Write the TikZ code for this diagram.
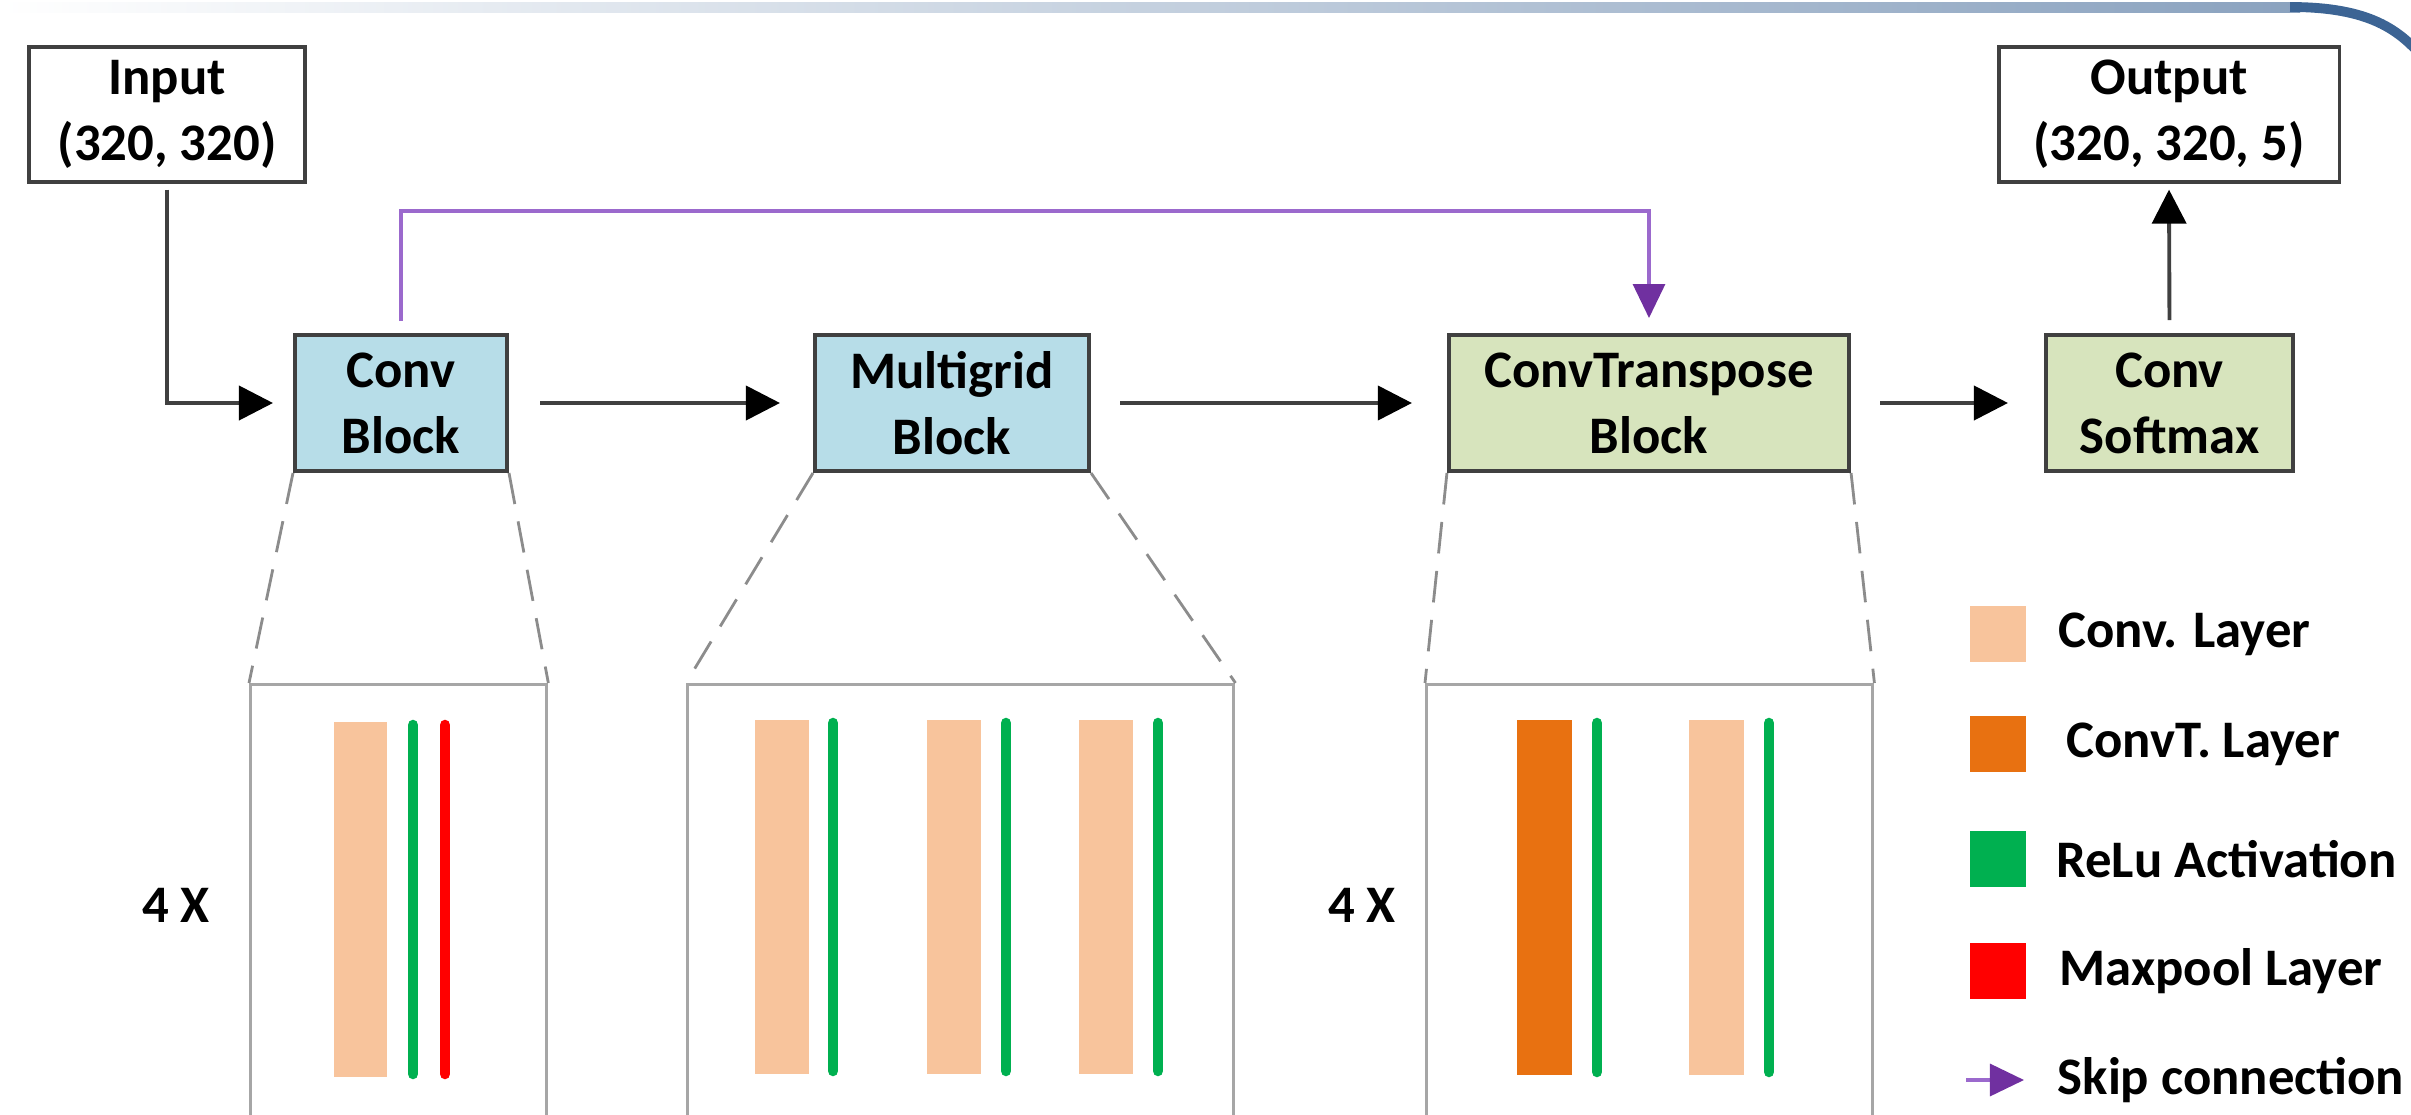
\documentclass[tikz,border=0pt]{standalone}
\usepackage{fontspec}
\setmainfont{Carlito}
\usetikzlibrary{arrows.meta,positioning}
\definecolor{blkblue}{RGB}{183,221,232}
\definecolor{blkgreen}{RGB}{215,228,189}
\definecolor{convpeach}{RGB}{248,196,156}
\definecolor{convtorange}{RGB}{232,113,17}
\definecolor{relugreen}{RGB}{0,176,80}
\definecolor{poolred}{RGB}{255,0,0}
\definecolor{skipline}{RGB}{155,105,205}
\definecolor{skiphead}{RGB}{112,48,160}
\definecolor{topblue}{RGB}{60,100,148}

\begin{document}
\begin{tikzpicture}[x=0.01cm, y=-0.01cm,
	nstyle/.style={draw=black!75, line width=1.1pt, align=center, inner sep=0pt,
	minimum height=1.36cm, font=\bfseries\fontsize{15}{18.8}\selectfont},
	iostyle/.style={nstyle, fill=white, line width=0.9pt, minimum height=1.35cm},
	detstyle/.style={draw=black!35, line width=0.9pt, anchor=north west,
	inner sep=0pt, minimum height=5cm},
	zoomline/.style={draw=black!45, line width=0.8pt, dash pattern=on 9pt off 5pt},
	flow/.style={draw=black!75, line width=1.1pt,
	-{Triangle[length=3.4mm, width=3.4mm, color=black]}},
	skip/.style={draw=skipline, line width=0.9pt,
	-{Triangle[length=3.4mm, width=3.2mm, color=skiphead]}},
	relu/.style={draw=relugreen, line width=3pt, line cap=round},
	pool/.style={draw=poolred, line width=3pt, line cap=round},
	legsq/.style={minimum size=0.56cm, inner sep=0pt},
	legtxt/.style={inner sep=0pt, anchor=west, font=\bfseries\fontsize{15}{18}\selectfont},
	]
	\useasboundingbox (0,0) rectangle (2411,1115);
	\clip (0,0) rectangle (2411,1115);

	% slide edge
	\shade[left color=white, right color=topblue!60] (0,3) rectangle (2300,12);
	\draw[topblue, line width=2.8pt] (2290,7) .. controls (2370,7) and (2400,30) .. (2425,60);

	% main blocks
	\node[iostyle, minimum width=2.76cm] (inp) at (167,114.5) {Input\\(320, 320)};
	\node[iostyle, minimum width=3.4cm] (outp) at (2169,114.5) {Output\\(320, 320, 5)};
	\node[nstyle, fill=blkblue, minimum width=2.12cm] (convblk) at (401,403) {Conv\\Block};
	\node[nstyle, fill=blkblue, minimum width=2.74cm] (mgblk) at (952,403) {Multigrid\\Block};
	\node[nstyle, fill=blkgreen, minimum width=4cm] (ctblk) at (1649,403) {ConvTranspose\\Block};
	\node[nstyle, fill=blkgreen, minimum width=2.47cm] (smblk) at (2169.5,403) {Conv\\Softmax};

	\draw[flow, shorten <=0.06cm, shorten >=0.2cm] (inp.south) |- (convblk.west);
	\draw[flow, shorten <=0.31cm, shorten >=0.33cm] (convblk.east) -- (mgblk.west);
	\draw[flow, shorten <=0.29cm, shorten >=0.35cm] (mgblk.east) -- (ctblk.west);
	\draw[flow, shorten <=0.29cm, shorten >=0.36cm] (ctblk.east) -- (smblk.west);
	\draw[flow, shorten <=0.13cm, shorten >=0.06cm] (smblk.north) -- (outp.south);
	\draw[skip, shorten <=0.12cm, shorten >=0.15cm]
	(convblk.north) -- (convblk.north |- 0,211) -| (ctblk.north);

	% detail boxes
	\node[detstyle, minimum width=2.96cm] (detconv) at (249,683) {};
	\node[detstyle, minimum width=5.46cm] (detmg) at (686,683) {};
	\node[detstyle, minimum width=4.46cm] (detct) at (1425,683) {};
	\draw[zoomline] (convblk.south west) -- (detconv.north west);
	\draw[zoomline] (convblk.south east) -- (detconv.north east);
	\draw[zoomline] (mgblk.south west) -- (detmg.north west);
	\draw[zoomline] (mgblk.south east) -- (detmg.north east);
	\draw[zoomline] (ctblk.south west) -- (detct.north west);
	\draw[zoomline] (ctblk.south east) -- (detct.north east);

	\node[legtxt, anchor=center] (rep1) at (176,905) {4 X};
	\node[legtxt, anchor=center] (rep2) at (1362,905) {4 X};

	% layers
	\fill[convpeach] (334,722) rectangle (387,1077);
	\draw[relu] (413,725) -- (413,1074);
	\draw[pool] (445,725) -- (445,1074);
	\foreach \bx/\gx in {755/833, 927/1006, 1079/1158}{
		\fill[convpeach] (\bx,720) rectangle ++(54,354);
		\draw[relu] (\gx,723) -- (\gx,1071);
	}
	\fill[convtorange] (1517,720) rectangle (1572,1075);
	\draw[relu] (1597,723) -- (1597,1072);
	\fill[convpeach] (1689,720) rectangle (1744,1075);
	\draw[relu] (1769,723) -- (1769,1072);

	% legend
	\node[legsq, fill=convpeach] (lgconv) at (1998,634) {};
	\node[legsq, fill=convtorange] (lgct) at (1998,744) {};
	\node[legsq, fill=relugreen] (lgrelu) at (1998,859) {};
	\node[legsq, fill=poolred] (lgpool) at (1998,971) {};
	\coordinate (lgskipa) at (1966,1080);
	\coordinate (lgskipb) at (2024,1080);
	\draw[skip] (lgskipa) -- (lgskipb);
	\node[legtxt, right=0.31cm of lgconv] {Conv. Layer};
	\node[legtxt, right=0.39cm of lgct] {ConvT. Layer};
	\node[legtxt, right=0.29cm of lgrelu] {ReLu Activation};
	\node[legtxt, right=0.32cm of lgpool] {Maxpool Layer};
	\node[legtxt, right=0.33cm of lgskipb] {Skip connection};
\end{tikzpicture}
\end{document}
